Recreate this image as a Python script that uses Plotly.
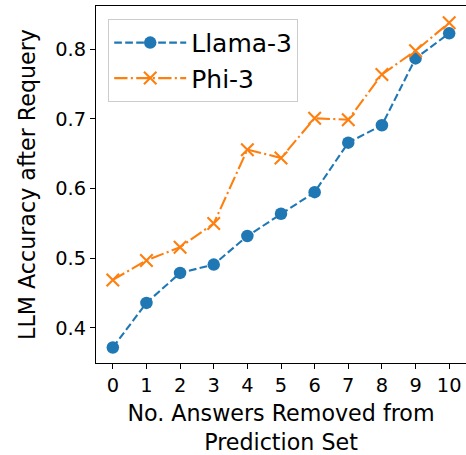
import plotly.graph_objects as go

x_vals = list(range(11))
llama3 = [0.372, 0.436, 0.479, 0.491, 0.532, 0.564, 0.595, 0.666, 0.691, 0.787, 0.823]
phi3 = [0.469, 0.497, 0.516, 0.550, 0.656, 0.644, 0.701, 0.699, 0.764, 0.798, 0.838]
y_ticks = [0.4, 0.5, 0.6, 0.7, 0.8]
y_tick_labels = ["0.4", "0.5", "0.6", "0.7", "0.8"]

FONT = "DejaVu Sans"
fig = go.Figure()
fig.add_trace(go.Scatter(
    x=x_vals, y=llama3, name="Llama-3", mode="lines+markers",
    line=dict(color="#1f77b4", width=2.08, dash="7.7px,3.3px"),
    marker=dict(symbol="circle", size=12.5, color="#1f77b4"),
))
fig.add_trace(go.Scatter(
    x=x_vals, y=phi3, name="Phi-3", mode="lines+markers",
    line=dict(color="#ff7f0e", width=2.08, dash="13.3px,3.3px,2.1px,3.3px"),
    marker=dict(symbol="x-thin", size=12.5, color="#ff7f0e",
                line=dict(color="#ff7f0e", width=2.08)),
))

axis_common = dict(
    showline=True, linecolor="black", linewidth=1.1, mirror=True,
    ticks="outside", ticklen=5, tickwidth=1.1, tickcolor="black",
    showgrid=False, zeroline=False, automargin=False,
    tickfont=dict(family=FONT, size=19.4, color="black"),
)

fig.update_xaxes(
    range=[-0.5, 10.5], tickmode="array", tickvals=x_vals,
    ticktext=[str(v) for v in x_vals],
    title=dict(text="No. Answers Removed from<br>Prediction Set",
               font=dict(family=FONT, size=22.2, color="black"), standoff=12),
    **axis_common,
)
fig.update_yaxes(
    range=[0.3497, 0.8622], tickmode="array", tickvals=y_ticks,
    ticktext=y_tick_labels,
    title=dict(text="LLM Accuracy after Requery",
               font=dict(family=FONT, size=22.2, color="black"), standoff=13),
    **axis_common,
)

fig.update_layout(
    width=466, height=455,
    margin=dict(l=96, r=0, t=6, b=92, pad=0, autoexpand=False),
    plot_bgcolor="white", paper_bgcolor="white",
    font=dict(family=FONT, color="black"),
    legend=dict(
        x=0.033, y=0.964, xanchor="left", yanchor="top",
        bgcolor="rgba(255,255,255,0.8)", bordercolor="#cccccc", borderwidth=1,
        font=dict(family=FONT, size=25, color="black"),
        itemwidth=72, tracegroupgap=0,
    ),
    showlegend=True,
)

fig.write_html(
    "out.html",
    config={"displayModeBar": False},
    post_script="document.body.style.margin='0px';document.body.style.overflow='hidden';",
)
